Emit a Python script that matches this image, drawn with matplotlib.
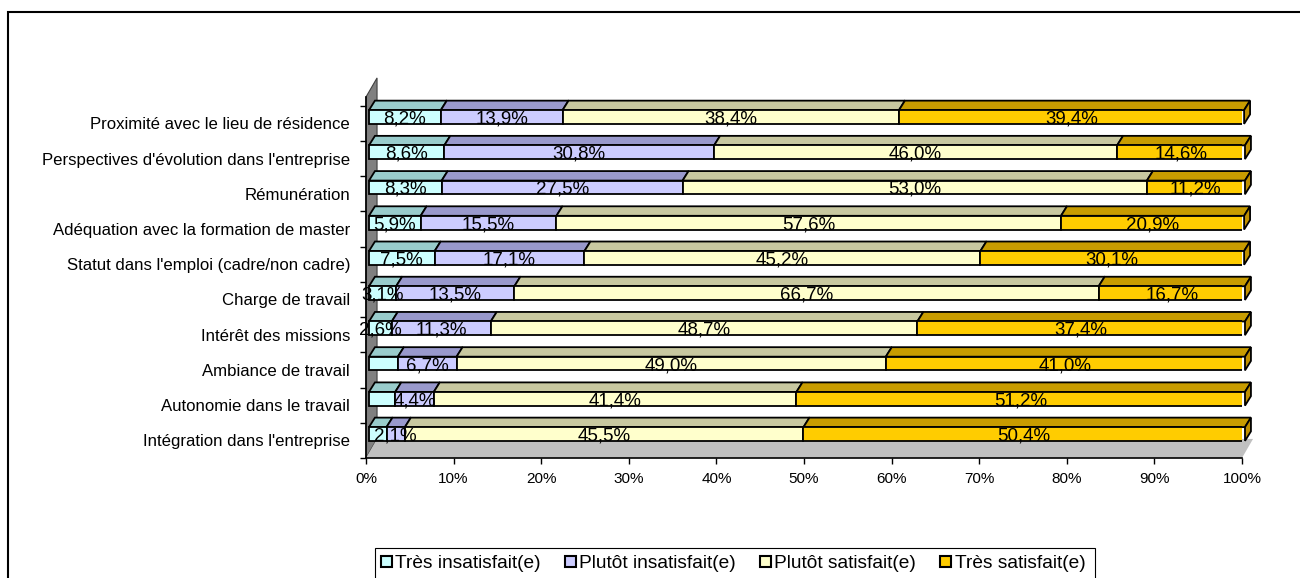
import matplotlib
matplotlib.use("Agg")
import matplotlib.pyplot as plt
from matplotlib.patches import Polygon, Rectangle, Patch
import numpy as np

plt.rcParams['font.family'] = ['Liberation Sans', 'DejaVu Sans']

# categories, top to bottom as shown
categories = [
    "Proximité avec le lieu de résidence",
    "Perspectives d'évolution dans l'entreprise",
    "Rémunération",
    "Adéquation avec la formation de master",
    "Statut dans l'emploi (cadre/non cadre)",
    "Charge de travail",
    "Intérêt des missions",
    "Ambiance de travail",
    "Autonomie dans le travail",
    "Intégration dans l'entreprise",
]
tres_insatisfait = [8.2, 8.6, 8.3, 5.9, 7.5, 3.1, 2.6, 3.3, 3.0, 2.0]
plutot_insatisfait = [13.9, 30.8, 27.5, 15.5, 17.1, 13.5, 11.3, 6.7, 4.4, 2.1]
plutot_satisfait = [38.4, 46.0, 53.0, 57.6, 45.2, 66.7, 48.7, 49.0, 41.4, 45.5]
tres_satisfait = [39.4, 14.6, 11.2, 20.9, 30.1, 16.7, 37.4, 41.0, 51.2, 50.4]
# the chart has no label on the first segment of the last three rows
first_labelled = [True, True, True, True, True, True, True, False, False, False]

series_names = ["Très insatisfait(e)", "Plutôt insatisfait(e)",
                "Plutôt satisfait(e)", "Très satisfait(e)"]
front_colors = ["#CCFFFF", "#CCCCFF", "#FFFFCC", "#FFCC00"]
top_colors = ["#99CCCC", "#9999CC", "#C8C8A0", "#C89C00"]

xticks = np.arange(0, 101, 10)

fig = plt.figure(figsize=(13, 5.78), dpi=100)
ax = fig.add_axes([0.28154, 0.15774, 0.67385, 0.73121])
ax.set_xlim(0, 100)
ax.set_ylim(-1.5, 10.5)

# 3d look, in data units
floor_y = -0.68
dep_x, dep_y = 1.26, 0.54      # floor / wall depth
bar_dx, bar_dy = 0.68, 0.27    # bar depth
bar_h = 0.39
shift = 0.34

wall = Polygon([(0, floor_y), (dep_x, floor_y + dep_y), (dep_x, 10.11), (0, 9.57)],
               closed=True, facecolor="#808080", edgecolor="#404040", lw=0.8,
               clip_on=False, zorder=1)
ax.add_patch(wall)
floor = Polygon([(0, floor_y), (100, floor_y), (100 + dep_x, floor_y + dep_y),
                 (dep_x, floor_y + dep_y)],
                closed=True, facecolor="#C0C0C0", edgecolor="none",
                clip_on=False, zorder=1)
ax.add_patch(floor)

n = len(categories)
ypos = np.arange(n)[::-1]
data = [tres_insatisfait, plutot_insatisfait, plutot_satisfait, tres_satisfait]
left = np.zeros(n)
for s, vals in enumerate(data):
    vals = np.array(vals)
    ax.barh(ypos, vals, left=left + shift, height=bar_h, color=front_colors[s],
            edgecolor="black", linewidth=1.3, zorder=3)
    for k, y in enumerate(ypos):
        l = left[k] + shift
        r = l + vals[k]
        yt = y + bar_h / 2
        top = Polygon([(l, yt), (r, yt), (r + bar_dx, yt + bar_dy), (l + bar_dx, yt + bar_dy)],
                      closed=True, facecolor=top_colors[s], edgecolor="black",
                      lw=1.3, zorder=2, clip_on=False)
        ax.add_patch(top)
        if s == len(data) - 1:
            side = Polygon([(r, y - bar_h / 2), (r + bar_dx, y - bar_h / 2 + bar_dy),
                            (r + bar_dx, yt + bar_dy), (r, yt)],
                           closed=True, facecolor="#C09000", edgecolor="black",
                           lw=1.3, zorder=2, clip_on=False)
            ax.add_patch(side)
        if s == 0 and not first_labelled[k]:
            continue
        ax.text((l + r) / 2, y - bar_h / 2 + 0.01, f"{vals[k]:.1f}%".replace(".", ","),
                ha="center", va="baseline", fontsize=13.5, zorder=5, clip_on=False)
    left += vals

# axes
for side_name in ["top", "right"]:
    ax.spines[side_name].set_visible(False)
ax.spines["bottom"].set_position(("data", floor_y))
ax.spines["bottom"].set_bounds(0, 100)
ax.spines["bottom"].set_linewidth(1.2)
ax.spines["left"].set_position(("data", 0))
ax.spines["left"].set_bounds(floor_y, 9.57)
ax.spines["left"].set_linewidth(1.2)
ax.spines["left"].set_zorder(2)

ax.set_xticks(xticks)
ax.set_xticklabels([f"{t}%" for t in xticks], fontsize=11)
ax.tick_params(axis="x", direction="out", length=4, width=1, pad=6)

ax.set_yticks(ypos + floor_y + 0.5)
ax.set_yticklabels(categories, fontsize=12.1)
ax.set_yticks(np.arange(n + 1) + floor_y, minor=True)
ax.tick_params(axis="y", which="major", length=0, pad=11.5)
ax.tick_params(axis="y", which="minor", direction="out", length=4, width=1)
ax.patch.set_visible(False)

# legend
handles = [Patch(facecolor=c, edgecolor="black", linewidth=1.5) for c in front_colors]
fig.legend(handles, series_names, loc="center left",
           bbox_to_anchor=(381 / 1300, 1 - 564 / 578), ncol=4, frameon=False,
           fontsize=13.8, handlelength=0.55, handleheight=0.55, handletextpad=0.2,
           columnspacing=1.25, borderaxespad=0, borderpad=0)
fig.add_artist(Rectangle((375 / 1300, -0.1), 720 / 1300, 0.1 + 30 / 578,
                         transform=fig.transFigure, facecolor="none",
                         edgecolor="black", lw=0.8))

# outer frame of the chart
fig.add_artist(Rectangle((8 / 1300, -0.1), 1.2, 0.1 + 1 - 12 / 578,
                         transform=fig.transFigure, facecolor="none",
                         edgecolor="black", lw=1.5))

fig.savefig("out.png", dpi=100)
